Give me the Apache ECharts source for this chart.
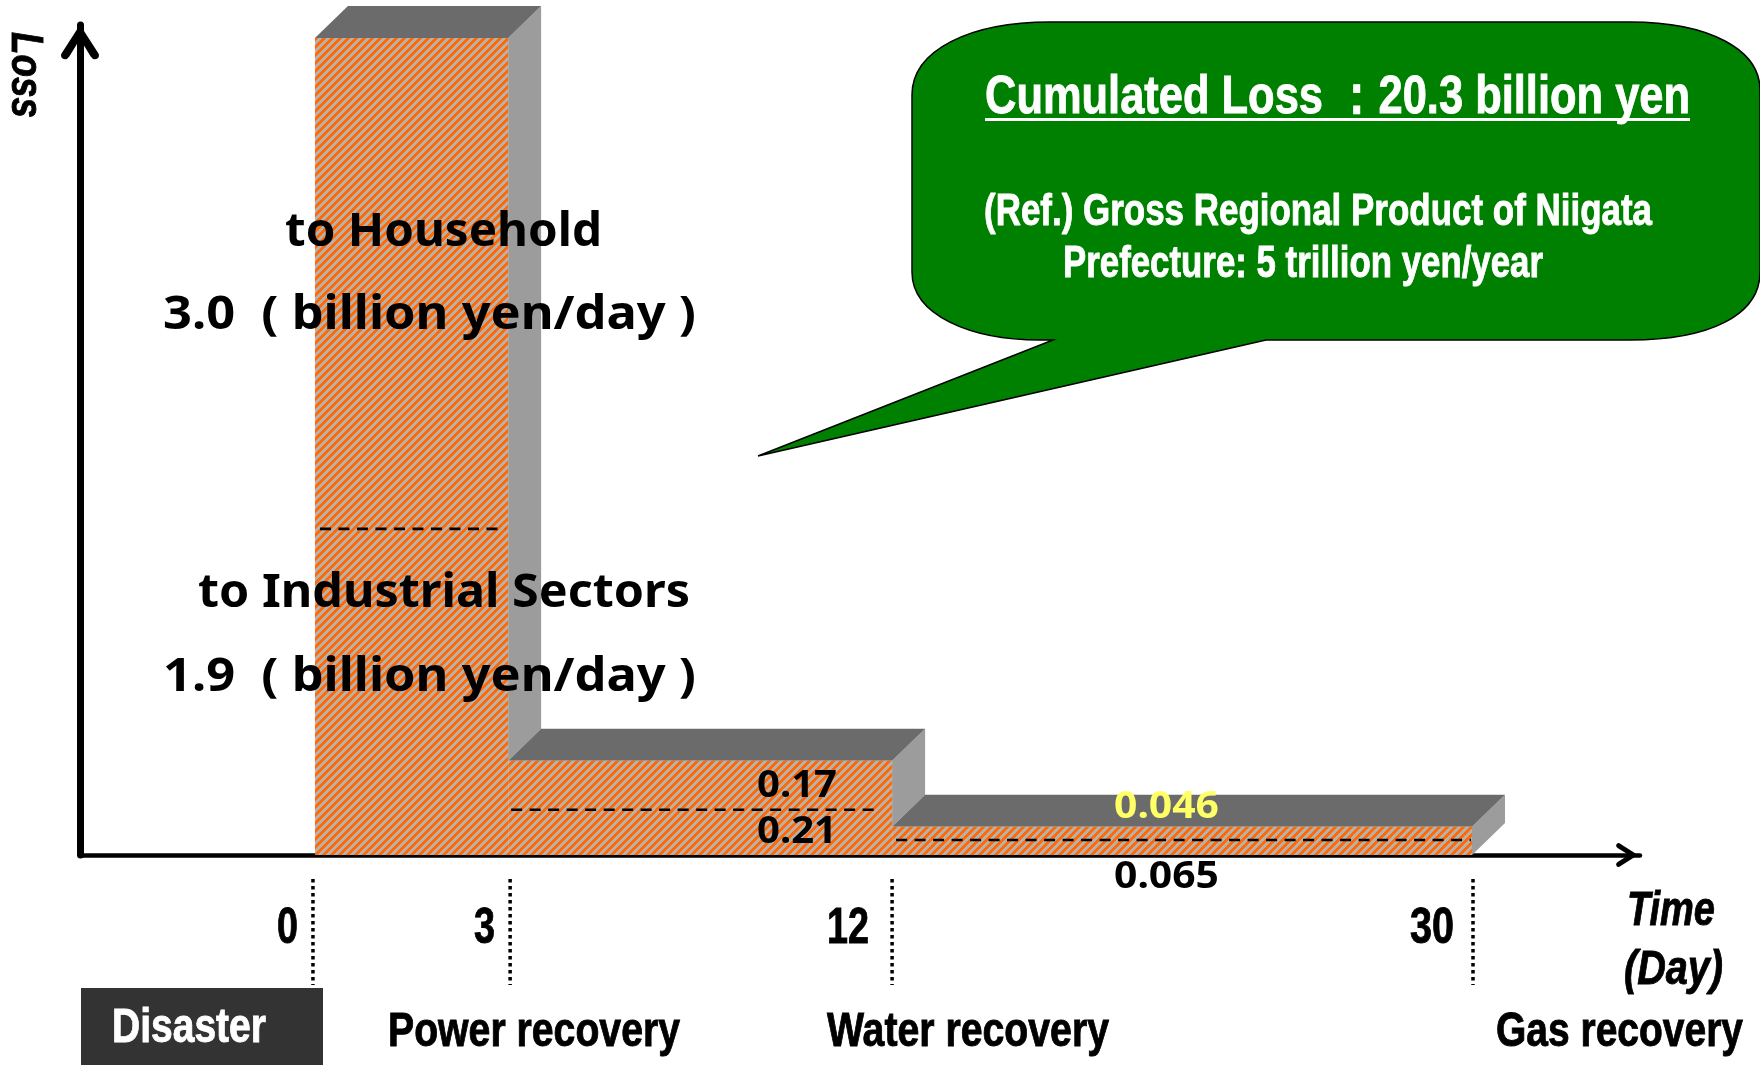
<!DOCTYPE html>
<html>
<head>
<meta charset="utf-8">
<style>html,body{margin:0;padding:0;background:#fff}#chart{width:1760px;height:1065px}</style>
<script src="https://cdn.jsdelivr.net/npm/echarts@6/dist/echarts.min.js"></script>
</head>
<body>
<div id="chart"></div>
<script>
// ---- data ----
const recoveryDays = [0, 3, 12, 30];
const recoveryNames = ['Disaster', 'Power recovery', 'Water recovery', 'Gas recovery'];
const lossIndustrial = [1.9, 0.21, 0.065];
const lossHousehold = [3.0, 0.17, 0.046];

// ---- axis breaks: the reference is a schematic, not drawn to a linear scale ----
const xBreaks = [
  {start: 4, end: 11, gap: 3.963},
  {start: 13, end: 29, gap: 7.006}
];
const yBreaks = [
  {start: 0.01, end: 0.06, gap: 0.0371},
  {start: 0.12, end: 0.2, gap: 0.04},
  {start: 0.5, end: 1.8, gap: 0.5856},
  {start: 2, end: 4.8, gap: 1.505}
];

const chart = echarts.init(document.getElementById('chart'), null, {renderer: 'canvas'});

// hatch tile: diagonal orange / grey stripes
function hatchTile() {
  const n = 8, c = document.createElement('canvas');
  c.width = n; c.height = n;
  const g = c.getContext('2d');
  g.fillStyle = '#B8B1AA';
  g.fillRect(0, 0, n, n);
  g.fillStyle = '#FF6A08';
  for (let y = 0; y < n; y++) for (let x = 0; x < n; x++) {
    if ((x + y) % n < 4) g.fillRect(x, y, 1, 1);
  }
  return {image: c, repeat: 'repeat'};
}
const hatch = hatchTile();

const DEPTH_X = 33, DEPTH_Y = 32;
const dashInsetLeft = [5, 3, 4];
const dashInsetRight = [3, 15, 1];
const markerNudge = [-2, 2, 0, 1];

function renderStep(params, api) {
  const i = params.dataIndex;
  const x0 = api.value(0), x1 = api.value(1), low = api.value(2), high = api.value(3), next = api.value(4);
  const a = api.coord([x0, 0]), b = api.coord([x1, high]);
  const n = api.coord([x1, next]);
  const mid = api.coord([x1, low]);
  const children = [];
  children.push({type: 'polygon', shape: {points: [[b[0], b[1]], [b[0] + DEPTH_X, b[1] - DEPTH_Y], [b[0] + DEPTH_X, n[1] - DEPTH_Y], [b[0], n[1]]]}, style: {fill: '#9C9C9C'}});
  children.push({type: 'polygon', shape: {points: [[a[0], b[1]], [b[0], b[1]], [b[0] + DEPTH_X, b[1] - DEPTH_Y], [a[0] + DEPTH_X, b[1] - DEPTH_Y]]}, style: {fill: '#6B6B6B'}});
  children.push({type: 'rect', shape: {x: a[0], y: b[1], width: b[0] - a[0], height: a[1] - b[1]}, style: {fill: hatch}});
  children.push({type: 'line', shape: {x1: a[0] + dashInsetLeft[i], y1: mid[1], x2: b[0] - dashInsetRight[i], y2: mid[1]}, style: {stroke: '#000', lineWidth: 2.6, lineDash: [11, 7.5]}});
  return {type: 'group', children};
}

function renderMarker(params, api) {
  const p = api.coord([api.value(0), 0]);
  const x = p[0] + markerNudge[params.dataIndex];
  return {type: 'line', shape: {x1: x, y1: p[1] + 24, x2: x, y2: p[1] + 130}, style: {stroke: '#000', lineWidth: 3.5, lineDash: [3.5, 3.5]}};
}

const calloutPath = 'M912 95 C912 50 970 22 1050 22 L1630 22 C1710 22 1760 50 1760 90 L1760 272 '
  + 'C1760 315 1710 340 1630 340 L1266 340 L758 456 L1053 340 L1040 340 C970 340 912 315 912 272 Z';

function renderCallout() {
  return {type: 'path', shape: {pathData: calloutPath, x: 758, y: 22, width: 1002, height: 434, layout: 'cover'},
    style: {fill: '#008000', stroke: '#000', lineWidth: 1.5}};
}

const stepData = lossIndustrial.map((v, i) => {
  const top = v + lossHousehold[i];
  const next = i + 1 < lossIndustrial.length ? lossIndustrial[i + 1] + lossHousehold[i + 1] : 0;
  return [recoveryDays[i], recoveryDays[i + 1], v, top, next];
});

// measure text so it can be condensed to the reference's narrow lettering
const meter = document.createElement('canvas').getContext('2d');
function fit(text, x, cy, width, font, fill, rotation, heavy) {
  meter.font = font;
  const w = meter.measureText(text).width;
  const colour = fill || '#000';
  return {type: 'text', x: x, y: cy, z: 50, scaleX: width / w, rotation: rotation || 0,
    style: {text: text, font: font, fill: colour, stroke: colour, lineWidth: heavy === undefined ? 0.9 : heavy,
      textAlign: 'left', textVerticalAlign: 'middle'}};
}
const N = 'bold 48px "Liberation Sans"';
const TICK = 'bold 50px "Liberation Sans"';
const IT = 'italic bold 48px "Liberation Sans"';
const W = 'bold 46px "Noto Sans"';
const V = 'bold 38px "Noto Sans"';
const SUM = 'bold 54px "Liberation Sans"';
const REF = 'bold 45px "Liberation Sans"';
const fmt1 = v => v.toFixed(1);

const tickLabelLeft = [277, 474, 827, 1410];
const tickLabelWidth = [21, 21, 42, 44];

const graphics = [
  {type: 'rect', z: 40, shape: {x: 81, y: 988, width: 242, height: 77}, style: {fill: '#333333'}},
  {type: 'rect', z: 51, shape: {x: 985, y: 118, width: 705, height: 3}, style: {fill: '#fff'}},
  fit('Cumulated Loss ：20.3 billion yen', 985, 98, 705, SUM, '#fff'),
  fit('(Ref.) Gross Regional Product of Niigata', 984, 213, 668, REF, '#fff'),
  fit('Prefecture: 5 trillion yen/year', 1063, 265, 480, REF, '#fff'),
  fit('to Household', 285, 233, 317, W, '#000', 0, 0),
  fit(fmt1(lossHousehold[0]) + '  ( billion yen/day )', 163, 316, 533, W, '#000', 0, 0),
  fit('to Industrial Sectors', 198, 594, 492, W, '#000', 0, 0),
  fit(fmt1(lossIndustrial[0]) + '  ( billion yen/day )', 163, 678, 533, W, '#000', 0, 0),
  fit(String(lossHousehold[1]), 757, 786, 80, V, '#000', 0, 0),
  fit(String(lossIndustrial[1]), 757, 832, 80, V, '#000', 0, 0),
  fit(String(lossHousehold[2]), 1114, 807, 105, V, '#FFFF66', 0, 0),
  fit(String(lossIndustrial[2]), 1114, 877, 105, V, '#000', 0, 0),
  fit('Loss', 24, 32, 86, 'italic bold 45px "Liberation Sans"', '#000', -Math.PI / 2),
  fit('Time', 1627, 912, 88, IT),
  fit('(Day)', 1624, 971, 99, IT),
  fit(recoveryNames[0], 112, 1029, 154, N, '#fff'),
  fit(recoveryNames[1], 388, 1033, 292, N),
  fit(recoveryNames[2], 827, 1033, 282, N),
  fit(recoveryNames[3], 1496, 1033, 247, N)
];
recoveryDays.forEach((d, i) => graphics.push(fit(String(d), tickLabelLeft[i], 929, tickLabelWidth[i], TICK)));

const arrowY = 'path://M50 0 L100 78 Q103 90 90 92 Q83 92 78 84 L50 38 L22 84 Q17 92 10 92 Q-3 90 0 78 Z';

chart.setOption({
  animation: false,
  backgroundColor: '#fff',
  grid: {left: 80, right: 120, top: 25, bottom: 210, containLabel: false},
  xAxis: {
    type: 'value', min: -3.649, max: 32.609,
    breaks: xBreaks,
    breakArea: {show: false},
    axisLine: {show: true, onZero: false, breakLine: false, symbol: ['none', arrowY], symbolSize: [24, 27], symbolOffset: [0, -13], lineStyle: {color: '#000', width: 4.5}},
    axisTick: {show: false}, axisLabel: {show: false}, splitLine: {show: false}
  },
  yAxis: {
    type: 'value', min: 0, max: 4.945,
    breaks: yBreaks,
    breakArea: {show: false},
    axisLine: {show: true, onZero: false, breakLine: false, symbol: ['none', arrowY], symbolSize: [38, 36], symbolOffset: [0, -17], lineStyle: {color: '#000', width: 7}},
    axisTick: {show: false}, axisLabel: {show: false}, splitLine: {show: false}
  },
  series: [
    {type: 'custom', name: 'Loss', coordinateSystem: 'cartesian2d', clip: false, silent: true, z: 2,
     encode: {x: [0, 1], y: [2, 3]}, data: stepData, renderItem: renderStep},
    {type: 'custom', name: 'Recovery', coordinateSystem: 'cartesian2d', clip: false, silent: true, z: 2,
     encode: {x: 0}, data: recoveryDays.map(d => [d]), renderItem: renderMarker},
    {type: 'custom', name: 'Callout', coordinateSystem: 'none', silent: true, z: 3,
     data: [[0]], renderItem: renderCallout}
  ],
  graphic: {elements: graphics}
});
</script>
</body>
</html>
